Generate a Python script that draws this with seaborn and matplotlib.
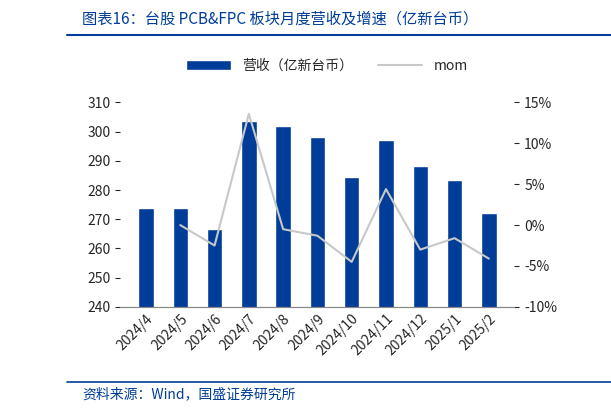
import numpy as np
import pandas as pd
import seaborn as sns
import matplotlib.pyplot as plt

months = ['2024/4', '2024/5', '2024/6', '2024/7', '2024/8', '2024/9', '2024/10',
          '2024/11', '2024/12', '2025/1', '2025/2']
revenue = [274.0, 273.8, 266.7, 303.5, 301.8, 298.0, 284.5, 297.2, 288.3, 283.6, 272.0]
mom = [np.nan, 0.0, -2.5, 13.6, -0.5, -1.3, -4.5, 4.4, -3.0, -1.6, -4.1]

sns.set_style('white')
plt.rcParams['font.family'] = ['Noto Sans CJK SC', 'DejaVu Sans']

blue = '#003d99'
df = pd.DataFrame({'month': months, 'revenue': revenue, 'mom': mom})

fig = plt.figure(figsize=(6.11, 4.13), dpi=100)
ax = fig.add_axes([0.197, 0.257, 0.645, 0.495])
sns.barplot(data=df, x='month', y='revenue', color=blue, width=0.45, ax=ax,
            label='营收（亿新台币）', saturation=1)
ax.set_ylim(240, 310)
ax.set_yticks(range(240, 311, 10))
ax.set_xlabel('')
ax.set_ylabel('')
ax.tick_params(axis='x', rotation=45, labelsize=10, length=0)
ax.tick_params(axis='y', labelsize=10)
for lbl in ax.get_xticklabels():
    lbl.set_ha('right')
    lbl.set_rotation_mode('anchor')

ax2 = ax.twinx()
sns.lineplot(x=np.arange(len(months)), y=df['mom'], color='#c8c8c8', lw=1.5, ax=ax2, label='mom')
ax2.set_ylim(-10, 15)
ax2.set_yticks(range(-10, 16, 5))
ax2.set_yticklabels([f'{v}%' for v in range(-10, 16, 5)], fontsize=10)
ax2.set_ylabel('')
ax2.get_legend().remove()
ax.get_legend().remove()
for a in (ax, ax2):
    for s in a.spines.values():
        s.set_visible(False)
    a.spines['bottom'].set_visible(True)
    a.spines['bottom'].set_color('#888888')

h1, l1 = ax.get_legend_handles_labels()
h2, l2 = ax2.get_legend_handles_labels()
fig.legend(h1 + h2, l1 + l2, loc='center', bbox_to_anchor=(0.535, 0.84), ncol=2,
           frameon=False, fontsize=10, handlelength=3.2, columnspacing=1.8)

fig.text(0.135, 0.955, '图表16：台股 PCB&FPC 板块月度营收及增速（亿新台币）', color=blue,
         fontsize=11, style='italic', va='center')
fig.add_artist(plt.Line2D([0.11, 1.0], [0.915, 0.915], color=blue, lw=1.5))
fig.add_artist(plt.Line2D([0.11, 1.0], [0.075, 0.075], color=blue, lw=1.2))
fig.text(0.135, 0.045, '资料来源：Wind，国盛证券研究所', color=blue, fontsize=10,
         style='italic', va='center')

fig.savefig('out.png', dpi=100)
